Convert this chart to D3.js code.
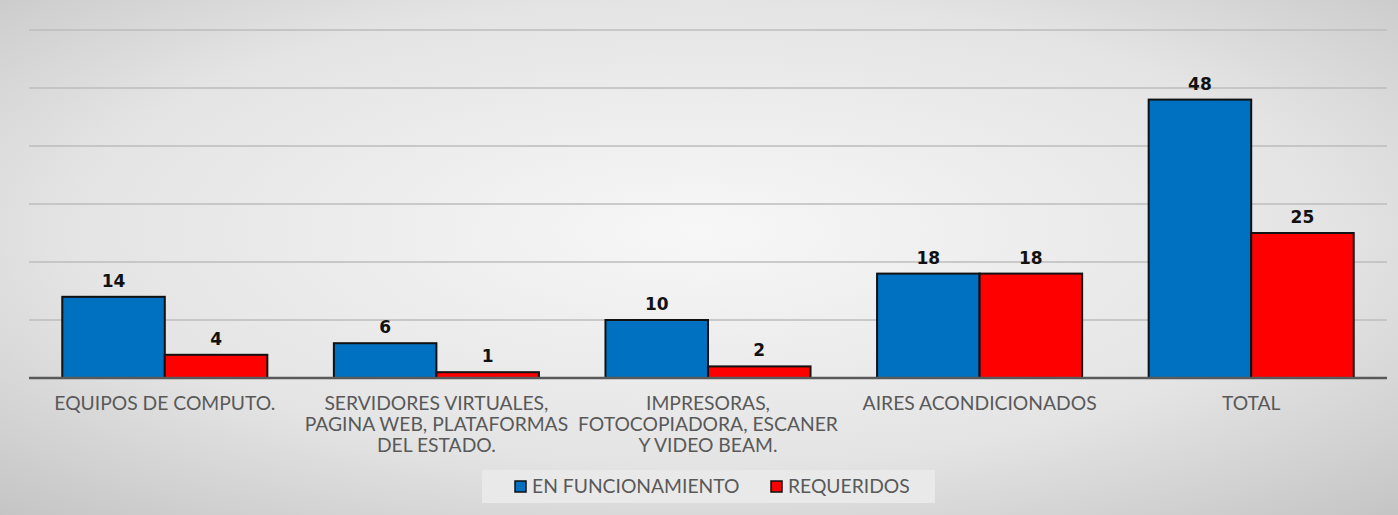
<!DOCTYPE html>
<html>
<head>
<meta charset="utf-8">
<script src="https://cdn.jsdelivr.net/npm/d3@7"></script>
<style>
  html, body { margin: 0; padding: 0; overflow: hidden; }
  svg { display: block; }
</style>
</head>
<body>
<svg id="chart" width="1398" height="515"></svg>
<script>
// data
var categories = [
  ["EQUIPOS DE COMPUTO."],
  ["SERVIDORES VIRTUALES,", "PAGINA WEB, PLATAFORMAS", "DEL ESTADO."],
  ["IMPRESORAS,", "FOTOCOPIADORA, ESCANER", "Y VIDEO BEAM."],
  ["AIRES ACONDICIONADOS"],
  ["TOTAL"]
];
var seriesNames = ["EN FUNCIONAMIENTO", "REQUERIDOS"];
var enFuncionamiento = [14, 6, 10, 18, 48];
var requeridos = [4, 1, 2, 18, 25];
var gridTicks = [0, 10, 20, 30, 40, 50, 60];

var colors = ["#0070c0", "#ff0000"];
var W = 1398, H = 515;
var svg = d3.select("#chart");

// fondo con degradado radial
var defs = svg.append("defs");
var grad = defs.append("radialGradient").attr("id", "bg")
  .attr("cx", "50%").attr("cy", "45%").attr("r", "75%");
grad.append("stop").attr("offset", "0%").attr("stop-color", "#f7f7f7");
grad.append("stop").attr("offset", "60%").attr("stop-color", "#e4e4e4");
grad.append("stop").attr("offset", "100%").attr("stop-color", "#c4c4c4");
svg.append("rect").attr("width", W).attr("height", H).attr("fill", "url(#bg)");

var x0 = d3.scaleBand()
  .domain(d3.range(categories.length))
  .range([29, 1387])
  .paddingInner(0.245)
  .paddingOuter(0.1225);
var x1 = d3.scaleBand()
  .domain([0, 1])
  .range([0, x0.bandwidth()]);
var y = d3.scaleLinear().domain([0, 60]).range([378, 30]);

// lineas de grilla
svg.append("g").selectAll("line")
  .data(gridTicks.filter(function(d) { return d > 0; }))
  .join("line")
  .attr("x1", 29).attr("x2", 1387)
  .attr("y1", function(d) { return y(d); })
  .attr("y2", function(d) { return y(d); })
  .attr("stroke", "#bcbcbc").attr("stroke-width", 1.5);

var groups = svg.append("g").selectAll("g")
  .data(categories)
  .join("g")
  .attr("transform", function(d, i) { return "translate(" + x0(i) + ",0)"; });

var rows = categories.map(function(c, i) { return [enFuncionamiento[i], requeridos[i]]; });

groups.selectAll("rect")
  .data(function(d, i) { return rows[i]; })
  .join("rect")
  .attr("x", function(d, j) { return x1(j); })
  .attr("width", x1.bandwidth())
  .attr("y", function(d) { return y(d); })
  .attr("height", function(d) { return y(0) - y(d); })
  .attr("fill", function(d, j) { return colors[j]; })
  .attr("stroke", "#111")
  .attr("stroke-width", 2);

groups.selectAll("text.val")
  .data(function(d, i) { return rows[i]; })
  .join("text")
  .attr("class", "val")
  .attr("x", function(d, j) { return x1(j) + x1.bandwidth() / 2; })
  .attr("y", function(d) { return y(d) - 10; })
  .attr("text-anchor", "middle")
  .attr("font-family", "DejaVu Sans")
  .attr("font-weight", "bold")
  .attr("font-size", 17)
  .attr("fill", "#111")
  .text(function(d) { return d; });

// eje base
svg.append("line")
  .attr("x1", 29).attr("x2", 1387)
  .attr("y1", y(0)).attr("y2", y(0))
  .attr("stroke", "#595959").attr("stroke-width", 2.5);

// etiquetas de categoria
groups.append("text")
  .attr("text-anchor", "middle")
  .attr("font-family", "Lato")
  .attr("font-size", 19.3)
  .attr("fill", "#595959")
  .selectAll("tspan")
  .data(function(d) { return d; })
  .join("tspan")
  .attr("x", x0.bandwidth() / 2)
  .attr("y", function(d, k) { return 410 + k * 21; })
  .text(function(d) { return d; });

// leyenda
var legend = svg.append("g");
legend.append("rect")
  .attr("x", 482).attr("y", 470).attr("width", 453).attr("height", 33)
  .attr("fill", "#e9e9e9");
var legX = [515, 771];
seriesNames.forEach(function(name, i) {
  legend.append("rect")
    .attr("x", legX[i]).attr("y", 481).attr("width", 11).attr("height", 11)
    .attr("fill", colors[i]).attr("stroke", "#111").attr("stroke-width", 1.5);
  legend.append("text")
    .attr("x", legX[i] + 17).attr("y", 493)
    .attr("font-family", "Lato").attr("font-size", 19.3)
    .attr("fill", "#595959")
    .text(name);
});
</script>
</body>
</html>
